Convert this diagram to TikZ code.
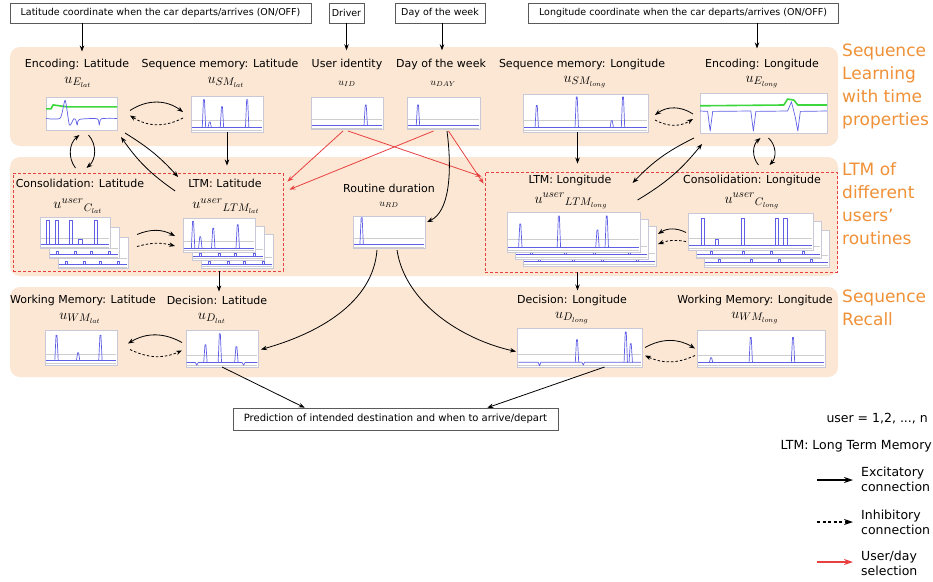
\documentclass[tikz,border=0pt]{standalone}
\usepackage{fontspec}
\setmainfont{DejaVu Sans}
\usetikzlibrary{calc,arrows.meta}
\definecolor{panelc}{RGB}{251,231,212}
\definecolor{orng}{RGB}{240,145,55}
\definecolor{redc}{RGB}{232,64,64}
\definecolor{bluel}{RGB}{95,95,230}
\definecolor{greenl}{RGB}{60,215,60}
\definecolor{pborder}{RGB}{200,200,215}
\definecolor{gridc}{RGB}{205,205,205}
\definecolor{boxc}{RGB}{90,90,90}
\tikzset{
 redrect/.style={draw=redc, dash pattern=on 3pt off 2pt, line width=0.9pt, inner sep=0pt},
 inbox/.style={draw=boxc, line width=0.6pt, fill=white, font=\fontsize{9.5}{10}\selectfont, inner xsep=2pt, minimum height=20pt},
 lbl/.style={font=\fontsize{11}{12}\selectfont, inner sep=1pt},
 mlbl/.style={font=\fontsize{15}{16}\selectfont, inner sep=1pt},
 slbl/.style={font=\fontsize{10}{11}\selectfont, inner sep=1pt},
 plotbox/.style={draw=pborder, fill=white, line width=0.5pt, inner sep=0pt, outer sep=0pt},
 exc/.style={-{Stealth[length=6pt,width=4.5pt]}, line width=0.8pt, black},
 inh/.style={exc, dash pattern=on 2.5pt off 2pt},
 sel/.style={-{Stealth[length=6pt,width=4.5pt]}, line width=0.8pt, redc},
 lgarrow/.style={line width=1.3pt, -{Stealth[length=9pt,width=6pt]}},
 side/.style={font=\fontsize{17}{23}\selectfont, text=orng, align=left, anchor=west, inner sep=0pt},
 lgd/.style={font=\fontsize{12.5}{15}\selectfont, inner sep=0pt},
 bl/.style={draw=bluel, line width=0.7pt, line join=round},
 gl/.style={draw=greenl, line width=1.6pt, line join=round},
 gr/.style={draw=gridc, line width=0.4pt},
}
\newcommand\gridl{\draw[gr] (0.01,0.68) -- (0.99,0.68); \draw[gr] (0.01,0.96) -- (0.99,0.96);}
\newcommand\plbase{\draw[bl] (0.01,0.88) -- (0.99,0.88);}
\newcommand\pkk[2]{\draw[bl] ([xshift=-1.7pt]#1,0.88) -- ([xshift=-0.5pt]#1,#2) -- ([xshift=0.5pt]#1,#2) -- ([xshift=1.7pt]#1,0.88);}
\newcommand\rpk[2]{\draw[bl] ([xshift=-1.8pt]#1,0.88) -- ([xshift=-1.8pt]#1,#2) -- ([xshift=1.8pt]#1,#2) -- ([xshift=1.8pt]#1,0.88);}
\newcommand\backc{\plbase\foreach \p in {0.12,0.38,0.6,0.86}{\draw[bl] ([xshift=-1pt]\p,0.88) -- ([xshift=-1pt]\p,0.8) -- ([xshift=1pt]\p,0.8) -- ([xshift=1pt]\p,0.88);}}
\newcommand\mkplot[6]{%
 \pgfmathsetmacro\pw{(#4)-(#2)}\pgfmathsetmacro\ph{(#5)-(#3)}%
 \node[plotbox, minimum width=\pw pt, minimum height=\ph pt] (#1) at ({((#2)+(#4))/2},{((#3)+(#5))/2}) {};
 \begin{scope}[shift={(#1.north west)}, x=\pw pt, y=-\ph pt]#6\end{scope}}
\newcommand\mkstack[8]{%
 \mkplot{#1c}{(#2)+2*(#6)}{(#3)+2*(#7)}{(#4)+2*(#6)}{(#5)+2*(#7)}{\gridl\backc}%
 \mkplot{#1b}{(#2)+(#6)}{(#3)+(#7)}{(#4)+(#6)}{(#5)+(#7)}{\gridl\backc}%
 \mkplot{#1}{#2}{#3}{#4}{#5}{#8}}
\begin{document}
\begin{tikzpicture}[x=1pt,y=-1pt]
\useasboundingbox (0,0) rectangle (933,581);
\fill[white] (0,0) rectangle (933,581);
% panels
\fill[panelc, rounded corners=10pt] (10,47) rectangle (838,146);
\fill[panelc, rounded corners=10pt] (10,157) rectangle (838,276);
\fill[panelc, rounded corners=10pt] (10,287) rectangle (838,377);
\node[redrect, minimum width=270pt, minimum height=98pt] (rectLat) at (148,222) {};
\node[redrect, minimum width=352pt, minimum height=100pt] (rectLong) at (661,222) {};
% side labels
\node[side] (sideA) at (842,86.5) {Sequence\\Learning\\with time\\properties};
\node[side] (sideB) at (842,203.5) {LTM of\\different\\users'\\routines};
\node[side] (sideC) at (842,308) {Sequence\\Recall};
% inputs
\node[inbox, minimum width=301pt] (inLat) at (160.5,13) {Latitude coordinate when the car departs/arrives (ON/OFF)};
\node[inbox, minimum width=35pt] (inDrv) at (346.5,13) {Driver};
\node[inbox, minimum width=90pt] (inDay) at (440,13) {Day of the week};
\node[inbox, minimum width=310pt] (inLong) at (683,13) {Longitude coordinate when the car departs/arrives (ON/OFF)};
% labels
\node[lbl] (tEncLat) at (77,64) {Encoding: Latitude};
\node[mlbl] (mEncLat) at (78,82) {$u_{E_{lat}}$};
\node[lbl] (tSmLat) at (220,64) {Sequence memory: Latitude};
\node[mlbl] (mSmLat) at (226,82) {$u_{SM_{lat}}$};
\node[lbl] (tId) at (347,64) {User identity};
\node[slbl] (mId) at (347,84) {$u_{ID}$};
\node[lbl] (tDay) at (441,64) {Day of the week};
\node[slbl] (mDay) at (443,84) {$u_{DAY}$};
\node[lbl] (tSmLong) at (582,64) {Sequence memory: Longitude};
\node[mlbl] (mSmLong) at (585,82) {$u_{SM_{long}}$};
\node[lbl] (tEncLong) at (762,64) {Encoding: Longitude};
\node[mlbl] (mEncLong) at (762,82) {$u_{E_{long}}$};
\node[lbl] (tConsLat) at (80,183) {Consolidation: Latitude};
\node[mlbl] (mConsLat) at (78,206) {${u^{user}}_{C_{lat}}$};
\node[lbl] (tLtmLat) at (225,183) {LTM: Latitude};
\node[mlbl] (mLtmLat) at (226,206) {${u^{user}}_{LTM_{lat}}$};
\node[lbl] (tRd) at (389,188) {Routine duration};
\node[slbl] (mRd) at (389,205) {$u_{RD}$};
\node[lbl] (tLtmLong) at (570,180) {LTM: Longitude};
\node[mlbl] (mLtmLong) at (571,201) {${u^{user}}_{LTM_{long}}$};
\node[lbl] (tConsLong) at (752,180) {Consolidation: Longitude};
\node[mlbl] (mConsLong) at (752,201) {${u^{user}}_{C_{long}}$};
\node[lbl] (tWmLat) at (83,300) {Working Memory: Latitude};
\node[mlbl] (mWmLat) at (80,318) {$u_{WM_{lat}}$};
\node[lbl] (tDLat) at (217,300) {Decision: Latitude};
\node[mlbl] (mDLat) at (212,318) {$u_{D_{lat}}$};
\node[lbl] (tDLong) at (572,300) {Decision: Longitude};
\node[mlbl] (mDLong) at (572,318) {$u_{D_{long}}$};
\node[lbl] (tWmLong) at (755,300) {Working Memory: Longitude};
\node[mlbl] (mWmLong) at (755,318) {$u_{WM_{long}}$};
% plots
\mkplot{encLat}{46}{97}{117}{130}{%
 \draw[gl] (0,0.36) -- (0.07,0.36) -- (0.1,0.24) -- (0.2,0.27) -- (0.3,0.3) -- (1,0.3);
 \draw[bl] plot[smooth,tension=0.4] coordinates {(0,0.65) (0.2,0.64) (0.27,0.1) (0.33,0.85) (0.39,0.66) (0.42,0.7) (0.44,0.85) (0.47,0.68) (0.72,0.66) (0.75,0.85) (0.78,0.66) (1,0.65)};}
\mkplot{smLat}{191}{96}{263}{132}{\gridl\plbase\pkk{0.18}{0.1}\pkk{0.26}{0.72}\pkk{0.43}{0.3}\pkk{0.78}{0.1}}
\mkplot{id}{311}{97}{383}{129}{\gridl\plbase\pkk{0.76}{0.25}}
\mkplot{day}{407}{97}{480}{129}{\gridl\plbase\pkk{0.15}{0.25}}
\mkplot{smLong}{523}{94}{648}{132}{\gridl\plbase\pkk{0.11}{0.3}\pkk{0.43}{0.08}\pkk{0.71}{0.7}\pkk{0.8}{0.08}}
\mkplot{encLong}{700}{93}{827}{133}{%
 \draw[gl] (0,0.32) -- (0.66,0.3) -- (0.69,0.15) -- (0.74,0.18) -- (0.77,0.3) -- (1,0.3);
 \draw[bl] (0,0.45) -- (0.06,0.46) -- (0.08,0.95) -- (0.1,0.46) -- (0.4,0.45) -- (0.42,0.95) -- (0.44,0.46) -- (0.69,0.45) -- (0.72,0.22) -- (0.75,0.6) -- (0.77,0.95) -- (0.79,0.46) -- (1,0.45);}
\mkplot{rd}{353}{216}{425}{248}{\gridl\plbase\pkk{0.12}{0.05}}
\mkstack{consLat}{40}{217}{110}{248}{9}{10}{\gridl\plbase\rpk{0.11}{0.1}\rpk{0.24}{0.1}\rpk{0.44}{0.1}\rpk{0.58}{0.72}\rpk{0.8}{0.1}}
\mkstack{ltmLat}{183}{218}{255}{252}{9}{8}{\gridl\plbase\pkk{0.14}{0.1}\pkk{0.24}{0.55}\pkk{0.42}{0.3}\pkk{0.76}{0.2}}
\mkstack{ltmLong}{507}{212}{640}{252}{8}{7}{\gridl\plbase\pkk{0.1}{0.3}\pkk{0.39}{0.1}\pkk{0.68}{0.45}\pkk{0.75}{0.1}}
\mkstack{consLong}{688}{213}{813}{250}{8}{8.5}{\gridl\plbase\rpk{0.12}{0.15}\rpk{0.23}{0.7}\rpk{0.44}{0.15}\rpk{0.71}{0.15}\rpk{0.78}{0.15}}
\mkplot{wmLat}{45}{330}{117}{365}{\gridl\plbase\pkk{0.16}{0.15}\pkk{0.46}{0.65}\pkk{0.77}{0.15}}
\mkplot{dLat}{186}{330}{258}{367}{\gridl
 \draw[bl] (0.01,0.88) -- (0.13,0.88) -- (0.15,0.95) -- (0.17,0.88) -- (0.78,0.88) -- (0.8,0.95) -- (0.82,0.88) -- (0.99,0.88);
 \pkk{0.27}{0.4}\pkk{0.47}{0.1}\pkk{0.7}{0.45}}
\mkplot{dLong}{517}{328}{642}{367}{\gridl
 \draw[bl] (0.01,0.88) -- (0.17,0.88) -- (0.18,0.97) -- (0.19,0.88) -- (0.52,0.88) -- (0.53,0.95) -- (0.54,0.88) -- (0.99,0.88);
 \pkk{0.48}{0.3}\pkk{0.87}{0.1}\pkk{0.91}{0.4}}
\mkplot{wmLong}{697}{330}{825}{367}{\gridl\plbase\pkk{0.11}{0.75}\pkk{0.42}{0.2}\pkk{0.75}{0.2}}
% prediction
\node[inbox, font=\fontsize{10}{11}\selectfont, minimum width=325pt, minimum height=22pt] (pred) at (395.5,419) {Prediction of intended destination and when to arrive/depart};
% input arrows
\coordinate (aLat) at ($(tEncLat.north)+(5,-6)$);
\draw[exc] (inLat.south -| aLat) -- (aLat);
\draw[exc] (inDrv.south) -- ($(inDrv.south)+(0,27)$);
\draw[exc] ($(inDay.south)+(2,0)$) -- ($(inDay.south)+(2,27)$);
\coordinate (aLong) at ($(tEncLong.north)+(-5,-9)$);
\draw[exc] (inLong.south -| aLong) -- (aLong);
% enc <-> sm
\draw[exc] ($(encLat.east)+(13,-3)$) to[bend left=35] ($(smLat.west)+(-8,-2)$);
\draw[inh] ($(smLat.west)+(-8,4)$) to[bend left=30] ($(encLat.east)+(13,2)$);
\draw[exc] ($(encLong.west)+(-7,1)$) to[bend right=35] ($(smLong.east)+(7,2)$);
\draw[inh] ($(smLong.east)+(7,7)$) to[bend right=30] ($(encLong.west)+(-7,6)$);
% cons -> ltm
\draw[exc] ($(consLat.east)+(27,2)$) to[bend left=25] ($(ltmLat.west)+(-8,1)$);
\draw[inh] ($(consLat.east)+(27,14)$) to[bend left=15] ($(ltmLat.west)+(-8,11)$);
\draw[exc] ($(consLong.west)+(-2,1)$) to[bend right=30] ($(ltmLong.east)+(18,2)$);
\draw[inh] ($(consLong.west)+(-2,10)$) to[bend right=15] ($(ltmLong.east)+(18,12)$);
% sm -> ltm
\draw[exc] (smLat.south) -- ($(smLat.south |- rectLat.north)+(0,-7)$);
\draw[exc] ($(smLong.south)+(-8,0)$) -- ($(smLong.south |- rectLong.north)+(-8,-8)$);
% enc <-> cons loops
\draw[exc] ($(encLat.south)+(-6,38)$) to[bend left=45] ($(encLat.south)+(-2,5)$);
\draw[exc] ($(encLat.south)+(7,5)$) to[bend left=45] ($(encLat.south)+(5,38)$);
\draw[exc] ($(encLong.south)+(-5,32)$) to[bend left=45] ($(encLong.south)+(-3,5)$);
\draw[exc] ($(encLong.south)+(5,5)$) to[bend left=45] ($(encLong.south)+(6,32)$);
% enc <-> ltm
\draw[exc] ($(encLat.south east)+(8,3)$) to[bend left=8] ($(tLtmLat.west)+(-9,-6)$);
\draw[exc] ($(tLtmLat.west)+(-12,8)$) to[bend left=10] ($(encLat.south east)+(4,7)$);
\draw[exc] ($(encLong.south west)+(-6,5)$) to[bend right=10] ($(tLtmLong.east)+(20,3)$);
\draw[exc] ($(tLtmLong.east)+(25,20)$) to[bend right=10] ($(encLong.south west)+(2,11)$);
% ltm -> decision
\draw[exc] (ltmLat.south |- rectLat.south) -- ($(ltmLat.south |- tDLat.north)+(0,-3)$);
\draw[exc] ($(ltmLong.south |- rectLong.south)+(4,0)$) -- ($(ltmLong.south |- tDLong.north)+(4,-3)$);
% red selection
\draw[sel] ($(id.south)+(-4,2)$) -- ($(rectLat.north east)+(4,9)$);
\draw[sel] ($(id.south)+(1,2)$) -- ($(rectLong.north west)+(-3,5)$);
\draw[sel] ($(day.south)+(-10,2)$) -- ($(rectLat.north east)+(6,17)$);
\draw[sel] ($(day.south)+(5,2)$) -- ($(rectLong.north west)+(-1,12)$);
% day -> rd
\draw[exc] ($(day.south)+(3.5,2)$) .. controls ($(day.south)+(9,45)$) and ($(rd.east)+(24,-20)$) .. ($(rd.east)+(2,-10)$);
% rd -> decisions
\draw[exc] ($(rd.south)+(-12,2)$) .. controls ($(rd.south)+(-16,55)$) and ($(dLat.east)+(60,-15)$) .. ($(dLat.east)+(3,1)$);
\draw[exc] ($(rd.south)+(8,2)$) .. controls ($(rd.south)+(16,55)$) and ($(dLong.west)+(-55,-8)$) .. ($(dLong.west)+(-1,4)$);
% wm <-> d
\draw[exc] ($(dLat.west)+(-4,-6)$) to[bend right=30] ($(wmLat.east)+(11,-4)$);
\draw[inh] ($(wmLat.east)+(13,2)$) to[bend right=25] ($(dLat.west)+(-4,2)$);
\draw[exc] ($(dLong.east)+(3,0)$) to[bend left=30] ($(wmLong.west)+(-2,0)$);
\draw[inh] ($(wmLong.west)+(-2,7)$) to[bend left=25] ($(dLong.east)+(3,8)$);
% decisions -> prediction
\draw[exc] (dLat.south) -- ($(pred.north west)+(72,0)$);
\draw[exc] ($(dLong.south)+(25,0)$) -- ($(pred.north east)+(-71,0)$);
% legend
\node[lgd, anchor=east] (legUser) at (928,419) {user = 1,2, ..., n};
\node[lgd, anchor=east] (legLtm) at (932,446) {LTM: Long Term Memory};
\coordinate (e1) at (817,480); \coordinate (e2) at (853,480);
\draw[lgarrow] (e1) -- (e2);
\node[lgd, anchor=west, align=left] (legExc) at (861,479) {Excitatory\\connection};
\coordinate (i1) at (817,522); \coordinate (i2) at (853,522);
\draw[lgarrow, dash pattern=on 3pt off 2.5pt] (i1) -- (i2);
\node[lgd, anchor=west, align=left] (legInh) at (861,522) {Inhibitory\\connection};
\coordinate (r1) at (817,562); \coordinate (r2) at (853,562);
\draw[lgarrow, redc] (r1) -- (r2);
\node[lgd, anchor=west, align=left] (legSel) at (861,563) {User/day\\selection};
\end{tikzpicture}
\end{document}
